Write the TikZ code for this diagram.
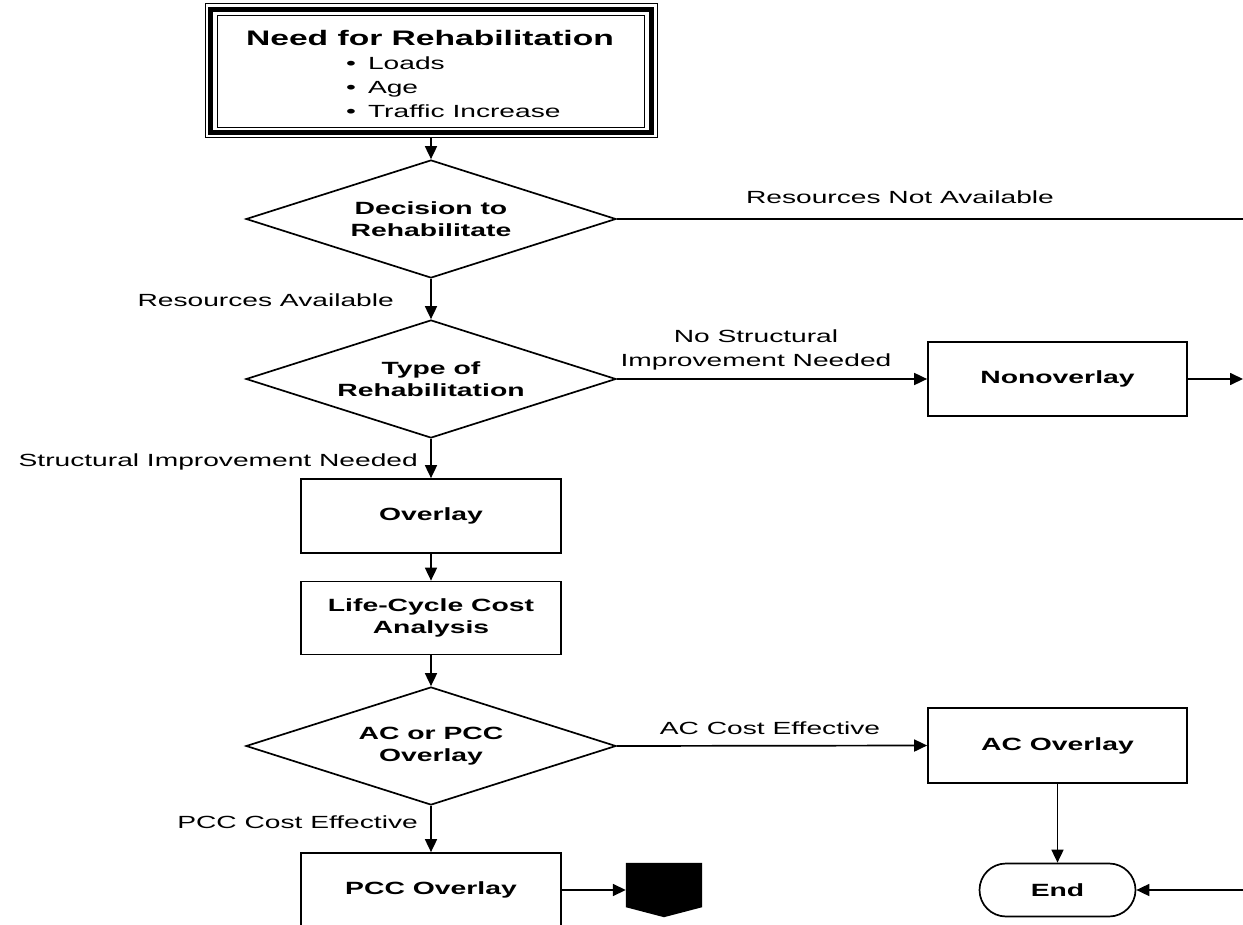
\documentclass[tikz,border=0pt]{standalone}
\usepackage{fontspec}
\setmainfont{Liberation Sans}[FakeStretch=1.6]
\usetikzlibrary{shapes.geometric,shapes.misc,arrows.meta}
\newcommand\myNodeFont{\fontsize{17.7}{22}\selectfont\bfseries}
\newcommand\myLblFont{\fontsize{17.6}{24}\selectfont}
\newcommand\myTitleFont{\fontsize{21}{25}\selectfont\bfseries}
\tikzset{
  procbox/.style={draw, line width=1.7pt, minimum width=260pt, minimum height=74pt, inner sep=0pt, font=\myNodeFont, align=center},
  decbox/.style={diamond, draw, line width=1.7pt, minimum width=370pt, minimum height=118pt, aspect=3.14, inner sep=0pt, font=\myNodeFont, align=center},
  lbl/.style={font=\myLblFont, align=center, inner sep=0pt},
  arr/.style={line width=1.7pt, -{Triangle[length=13pt,width=12pt]}},
  ln/.style={line width=1.7pt}
}
\begin{document}
\begin{tikzpicture}[x=1pt,y=-1pt]
\useasboundingbox (0,0) rectangle (1243,925);
% top box with triple border
\node[draw, line width=1pt, minimum width=452pt, minimum height=134pt, inner sep=0pt] (need) at (431,71) {};
\draw[line width=5.5pt] ([xshift=6pt,yshift=-6pt]need.north west) rectangle ([xshift=-6pt,yshift=6pt]need.south east);
\draw[line width=1.6pt] ([xshift=13pt,yshift=-12pt]need.north west) rectangle ([xshift=-13pt,yshift=11pt]need.south east);
\node[font=\myTitleFont, inner sep=0pt] (title) at (430,38) {Need for Rehabilitation};
\node[anchor=west, font=\myLblFont, inner sep=0pt] (list) at (346,89)
  {\begin{tabular}{@{}l@{\hspace{12pt}}l@{}}•&Loads\\•&Age\\•&Traffic Increase\end{tabular}};

% main column
\node[decbox] (d1) at (431,219) {Decision to\\Rehabilitate};
\node[decbox] (d2) at (431,379) {Type of\\Rehabilitation};
\node[procbox] (overlay) at (431,516) {Overlay};
\node[procbox, minimum height=73pt] (lcca) at (431,618) {Life-Cycle Cost\\Analysis};
\node[decbox] (d3) at (431,746) {AC or PCC\\Overlay};
\node[procbox] (pcc) at (431,890) {PCC Overlay};

% right column
\node[procbox, minimum width=259pt] (nonov) at (1057.5,379) {Nonoverlay};
\node[procbox, minimum width=259pt, minimum height=75pt] (acov) at (1057.5,745.5) {AC Overlay};
\node[draw, line width=1.7pt, rounded rectangle, minimum width=156pt, minimum height=53pt, inner sep=0pt, font=\myNodeFont] (end) at (1057.5,890) {End};

% off-page connector
\node[minimum width=76pt, minimum height=54pt, inner sep=0pt] (conn) at (664,890) {};
\fill (conn.north west) -- (conn.north east) -- ([yshift=10pt]conn.south east) -- (conn.south) -- ([yshift=10pt]conn.south west) -- cycle;

% edge coordinates
\coordinate (rn) at (1243,219);
\coordinate (nr) at (1243,379);
\coordinate (er) at (1243,890);

% connectors
\draw[arr] (need.south) -- (d1.north);
\draw[arr] (d1.south) -- (d2.north);
\draw[ln] (d1.east) -- (rn);
\draw[arr] (d2.east) -- (nonov.west);
\draw[arr] (nonov.east) -- (nr);
\draw[arr] (d2.south) -- (overlay.north);
\draw[arr] (overlay.south) -- (lcca.north);
\draw[arr] (lcca.south) -- (d3.north);
\draw[arr] (d3.east) -- (acov.west);
\draw[arr] (d3.south) -- (pcc.north);
\draw[arr] (pcc.east) -- (conn.west);
\draw[arr] (acov.south) -- (end.north);
\draw[arr] (er) -- (end.east);

% labels
\node[lbl] (l1) at (900,197) {Resources Not Available};
\node[lbl, anchor=east] (l2) at (394,300) {Resources Available};
\node[lbl] (l3) at (756,350) {No Structural\\Improvement Needed};
\node[lbl, anchor=east] (l4) at (418,462) {Structural Improvement Needed};
\node[lbl] (l5) at (770,728) {AC Cost Effective};
\node[lbl, anchor=east] (l6) at (418,822) {PCC Cost Effective};
\end{tikzpicture}
\end{document}
